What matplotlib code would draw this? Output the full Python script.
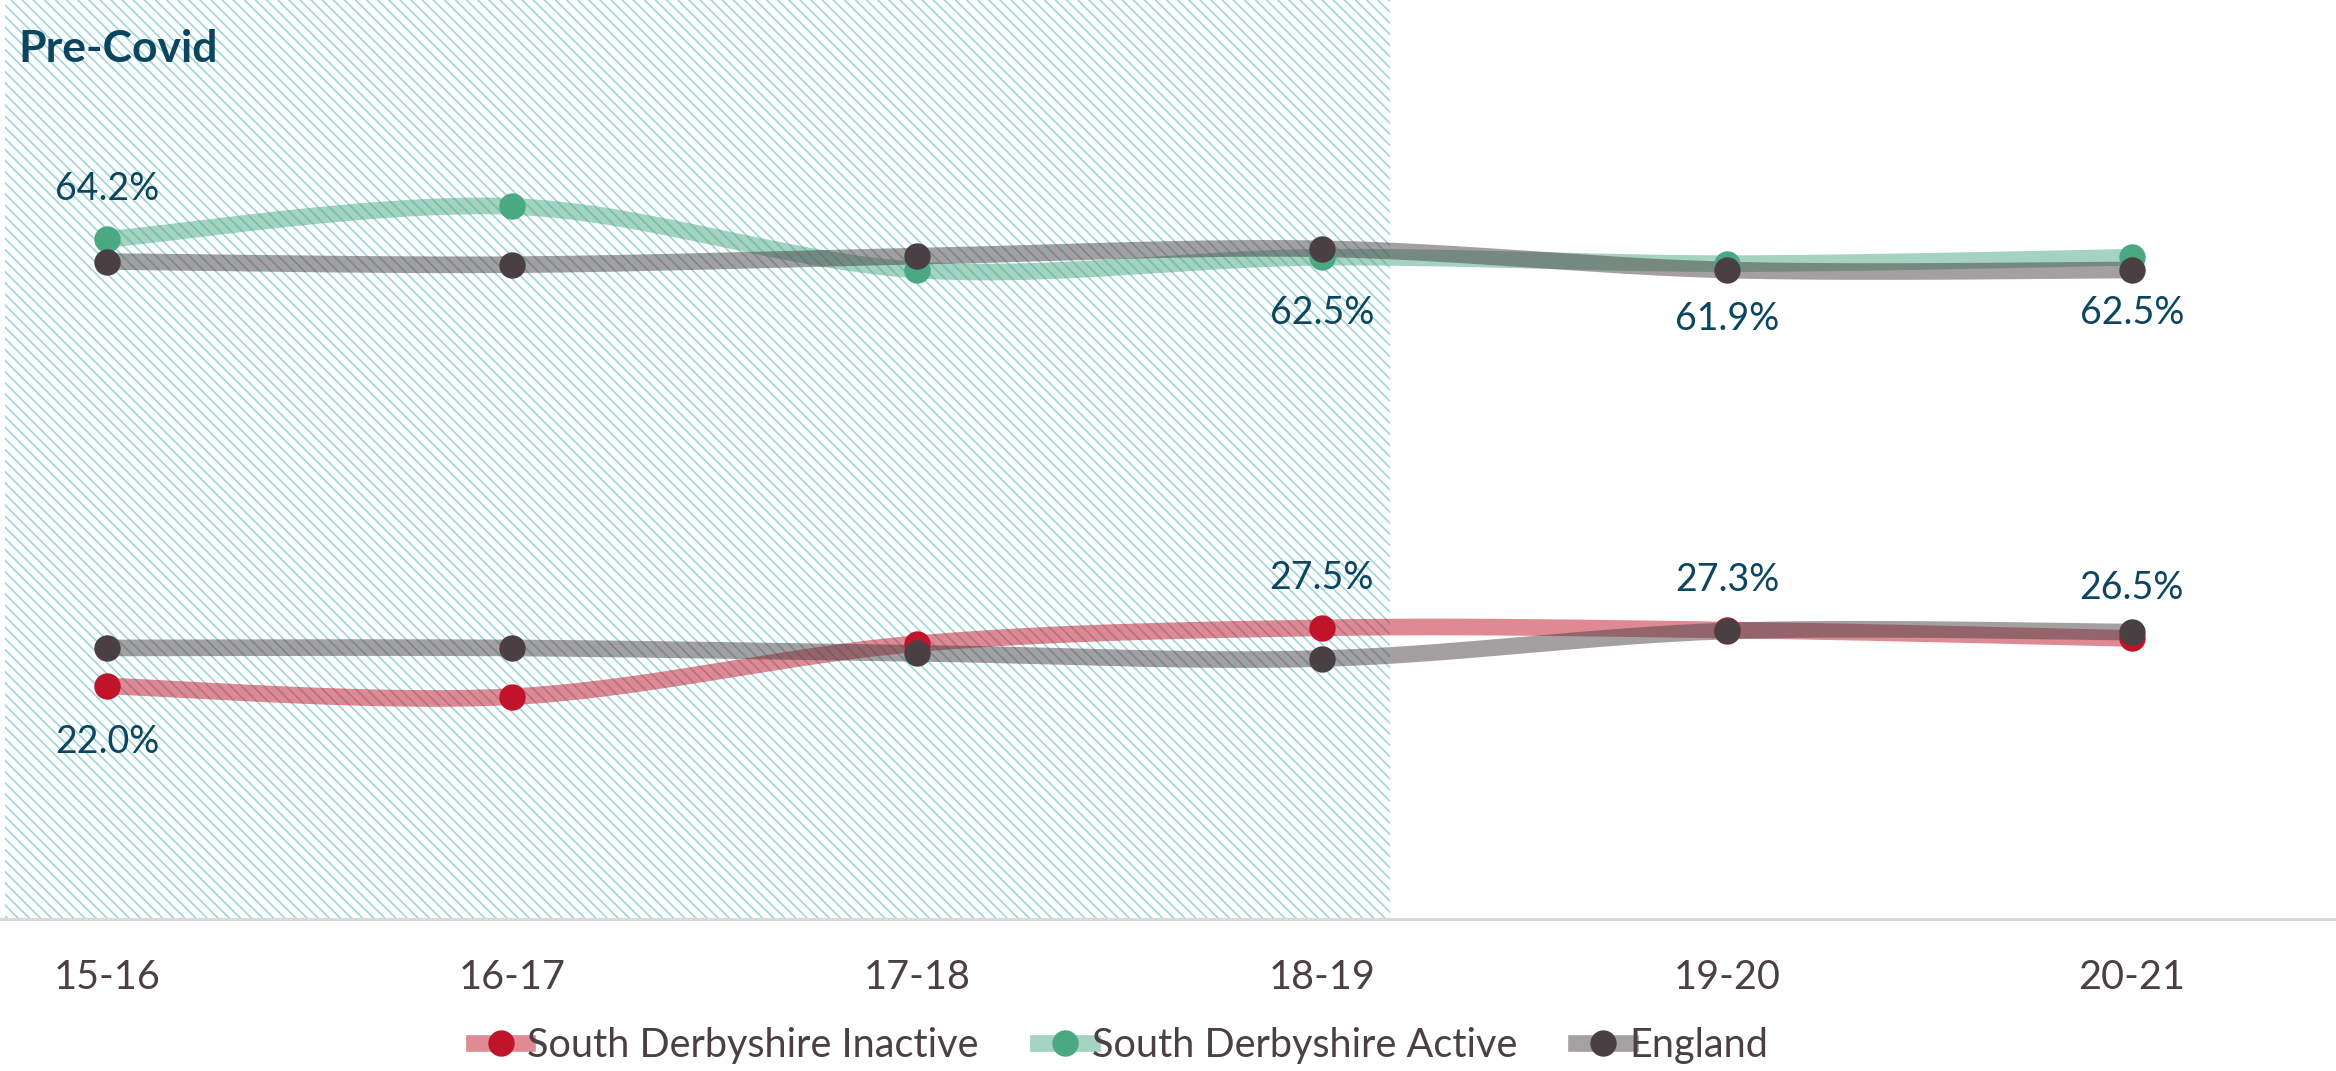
import numpy as np
import matplotlib
matplotlib.use("Agg")
import matplotlib.pyplot as plt
from matplotlib.lines import Line2D
from matplotlib.patches import Rectangle

plt.rcParams['font.family'] = ['Lato', 'DejaVu Sans']
plt.rcParams['hatch.linewidth'] = 1.2

# ---- data -------------------------------------------------------------
years = ["15-16", "16-17", "17-18", "18-19", "19-20", "20-21"]
sd_inactive = [22.0, 21.0, 26.0, 27.5, 27.3, 26.5]
sd_active = [64.2, 67.3, 61.3, 62.5, 61.9, 62.5]
eng_active = [62.1, 61.8, 62.6, 63.3, 61.3, 61.3]
eng_inactive = [25.6, 25.6, 25.1, 24.6, 27.2, 27.1]

# which points carry a value label, and on which side
inactive_labels = {0: "below", 3: "above", 4: "above", 5: "above"}
active_labels = {0: "above", 3: "below", 4: "below", 5: "below"}

pre_covid_span = ("15-16", "18-19")

# ---- styling ----------------------------------------------------------
RED = "#c0142a"
GREEN = "#4aa882"
GREY = "#4a4044"
LABEL_C = "#0b4560"
TEXT_C = "#4a4044"
HATCH_C = "#9dd6d8"


def smooth(xs, ys, n=60):
    """Catmull-Rom style smoothing (cubic Bezier through every point)."""
    xs = np.asarray(xs, float)
    ys = np.asarray(ys, float)
    px = np.concatenate([[xs[0]], xs, [xs[-1]]])
    py = np.concatenate([[ys[0]], ys, [ys[-1]]])
    out_x, out_y = [], []
    t = np.linspace(0, 1, n)
    for i in range(1, len(px) - 2):
        p0 = np.array([px[i], py[i]])
        p3 = np.array([px[i + 1], py[i + 1]])
        c1 = p0 + (np.array([px[i + 1], py[i + 1]]) - np.array([px[i - 1], py[i - 1]])) / 6
        c2 = p3 - (np.array([px[i + 2], py[i + 2]]) - np.array([px[i], py[i]])) / 6
        b = ((1 - t) ** 3)[:, None] * p0 + (3 * (1 - t) ** 2 * t)[:, None] * c1 \
            + (3 * (1 - t) * t ** 2)[:, None] * c2 + (t ** 3)[:, None] * p3
        out_x.extend(b[:, 0])
        out_y.extend(b[:, 1])
    return np.array(out_x), np.array(out_y)


fig = plt.figure(figsize=(23.36, 10.71), dpi=100)
ax = fig.add_axes([0, 152 / 1071, 1, 919 / 1071])
x = np.arange(len(years))
ax.set_xlim(-0.264, 5.504)
ax.set_ylim(0, 86.8)

# shaded pre-covid period
i0 = years.index(pre_covid_span[0])
i1 = years.index(pre_covid_span[1])
ax.add_patch(Rectangle((i0 - 0.252, 0), (i1 - i0) + 0.42, 86.8,
                       facecolor="none", edgecolor=HATCH_C, linewidth=0,
                       hatch="\\\\\\", zorder=0.5))

LW = 12
MS = 19
series = [
    ("South Derbyshire Inactive", sd_inactive, RED),
    ("South Derbyshire Active", sd_active, GREEN),
    ("England", eng_active, GREY),
]
for name, vals, col in series:
    sx, sy = smooth(x, vals)
    ax.plot(sx, sy, color=col, alpha=0.5, lw=LW, solid_capstyle="butt", zorder=2)
    ax.plot(x, vals, "o", color=col, ms=MS, mec="none", zorder=3)
sx, sy = smooth(x, eng_inactive)
ax.plot(sx, sy, color=GREY, alpha=0.5, lw=LW, solid_capstyle="butt", zorder=2)
ax.plot(x, eng_inactive, "o", color=GREY, ms=MS, mec="none", zorder=3)

# value labels
for vals, labels in ((sd_inactive, inactive_labels), (sd_active, active_labels)):
    for i, side in labels.items():
        dy = 36 if side == "above" else -40
        ax.annotate(f"{vals[i]:.1f}%", (x[i], vals[i]), xytext=(0, dy),
                    textcoords="offset points", ha="center", va="center",
                    fontsize=27, color=LABEL_C, zorder=4)

ax.text(0.008, 0.947, "Pre-Covid", transform=ax.transAxes, fontsize=32,
        fontweight="bold", color=LABEL_C, ha="left", va="center")

# axes styling
for s in ("left", "right", "top"):
    ax.spines[s].set_visible(False)
ax.spines["bottom"].set_color("#d9d9d9")
ax.spines["bottom"].set_linewidth(2.2)
ax.set_yticks([])
ax.set_xticks(x)
ax.set_xticklabels(years, fontsize=28.5, color=TEXT_C)
ax.tick_params(axis="x", length=0, pad=29)

handles = []
for _, _, c in series:
    # lighter stroke behind a solid marker
    rgb = np.array(matplotlib.colors.to_rgb(c))
    handles.append(Line2D([], [], color=tuple(1 - 0.5 * (1 - rgb)), lw=LW,
                          marker="o", ms=MS, mfc=c, mec="none"))
leg = fig.legend(handles, [n for n, _, _ in series], loc="center",
                 bbox_to_anchor=(0.480, 0.024), ncol=3, frameon=False,
                 fontsize=28.5, handlelength=1.35, handletextpad=0.0,
                 columnspacing=1.5, borderpad=0)
for t in leg.get_texts():
    t.set_color(TEXT_C)

fig.savefig("out.png", dpi=100, facecolor="white")
